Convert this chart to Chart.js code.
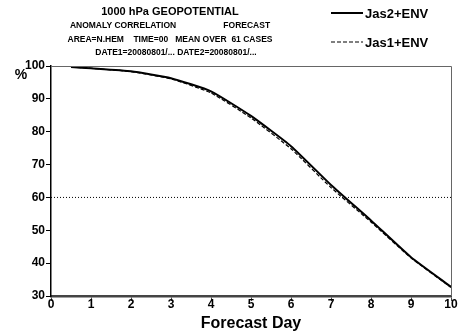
<!DOCTYPE html>
<html>
<head>
<meta charset="utf-8">
<script src="https://cdn.jsdelivr.net/npm/chart.js@4"></script>
<style>
  html, body { margin: 0; padding: 0; background: #fff; }
  #wrap { width: 470px; height: 333px; position: relative; }
</style>
</head>
<body>
<div id="wrap"><canvas id="acChart" width="470" height="333"></canvas></div>
<script>
// values
const days = [0.5, 1, 2, 3, 4, 5, 6, 7, 8, 9, 10];
const jas2 = [99.7, 99.3, 98.4, 96.3, 92.3, 84.8, 75.6, 63.8, 53.0, 41.8, 32.8];
const jas1 = [99.7, 99.3, 98.3, 96.1, 91.8, 84.2, 74.8, 63.0, 52.5, 41.6, 32.6];
const refLine = [60, 60];
const refDays = [0, 10];
const titleLines = [
  "1000 hPa GEOPOTENTIAL",
  "ANOMALY CORRELATION                    FORECAST",
  "AREA=N.HEM    TIME=00   MEAN OVER  61 CASES",
  "DATE1=20080801/... DATE2=20080801/..."
];

const FONT = "'Liberation Sans', Arial, sans-serif";

function pts(xs, ys) {
  return xs.map((x, i) => ({ x: x, y: ys[i] }));
}

// header text, custom legend, frame
const decor = {
  id: "decor",
  afterDraw(chart) {
    const ctx = chart.ctx;
    const a = chart.chartArea;
    ctx.save();
    // top and right frame
    ctx.strokeStyle = "#666";
    ctx.lineWidth = 1;
    ctx.beginPath();
    ctx.moveTo(a.left, a.top + 0.5);
    ctx.lineTo(a.right + 0.5, a.top + 0.5);
    ctx.lineTo(a.right + 0.5, a.bottom);
    ctx.stroke();

    ctx.fillStyle = "#000";
    ctx.textAlign = "center";
    ctx.textBaseline = "middle";
    ctx.font = "bold 11px " + FONT;
    ctx.fillText(titleLines[0], 170, 12);
    ctx.font = "bold 8.5px " + FONT;
    ctx.fillText(titleLines[1], 170, 26);
    ctx.fillText(titleLines[2], 170, 40);
    ctx.fillText(titleLines[3], 176, 53);

    // legend
    const ds = chart.data.datasets;
    const rows = [13, 42];
    [0, 1].forEach((k, i) => {
      const y = rows[i];
      ctx.strokeStyle = "#000";
      ctx.lineWidth = ds[k].borderWidth;
      ctx.setLineDash(ds[k].borderDash || []);
      ctx.beginPath();
      ctx.moveTo(331, y);
      ctx.lineTo(363, y);
      ctx.stroke();
      ctx.setLineDash([]);
      ctx.font = "bold 13px " + FONT;
      ctx.textAlign = "left";
      ctx.fillText(ds[k].label, 365, y + 1);
    });

    // % unit
    ctx.font = "bold 14px " + FONT;
    ctx.textAlign = "center";
    ctx.fillText("%", 21, 75);
    ctx.restore();
  }
};

new Chart(document.getElementById("acChart"), {
  type: "line",
  data: {
    datasets: [
      {
        label: "Jas2+ENV",
        data: pts(days, jas2),
        borderColor: "#000",
        borderWidth: 2,
        pointRadius: 0,
        tension: 0.15
      },
      {
        label: "Jas1+ENV",
        data: pts(days, jas1),
        borderColor: "#000",
        borderWidth: 1.2,
        borderDash: [4, 2],
        pointRadius: 0,
        tension: 0.15
      },
      {
        label: "60",
        data: pts(refDays, refLine),
        borderColor: "#000",
        borderWidth: 1,
        borderDash: [1, 2],
        pointRadius: 0
      }
    ]
  },
  options: {
    responsive: false,
    animation: false,
    layout: { padding: { top: 66, right: 19, left: 0, bottom: 0 } },
    plugins: { legend: { display: false }, tooltip: { enabled: false } },
    scales: {
      x: {
        type: "linear",
        min: 0,
        max: 10,
        ticks: {
          stepSize: 1,
          color: "#000",
          font: { family: FONT, size: 12, weight: "bold" },
          padding: -4
        },
        grid: { display: true, drawOnChartArea: false, drawTicks: true, tickLength: 5, color: "#444", lineWidth: 1 },
        border: { color: "#444", width: 2.5 },
        title: {
          display: true,
          text: "Forecast Day",
          color: "#000",
          font: { family: FONT, size: 16, weight: "bold" },
          padding: { top: -3, bottom: 0 }
        },
        afterFit(s) { s.height = 37; }
      },
      y: {
        min: 30,
        max: 100,
        ticks: {
          stepSize: 10,
          color: "#000",
          font: { family: FONT, size: 12, weight: "bold" },
          padding: 1
        },
        grid: { display: true, drawOnChartArea: false, drawTicks: true, tickLength: 5, color: "#000", lineWidth: 1 },
        border: { color: "#000", width: 1.5 },
        afterFit(s) { s.width = 51; }
      }
    }
  },
  plugins: [decor]
});
</script>
</body>
</html>
